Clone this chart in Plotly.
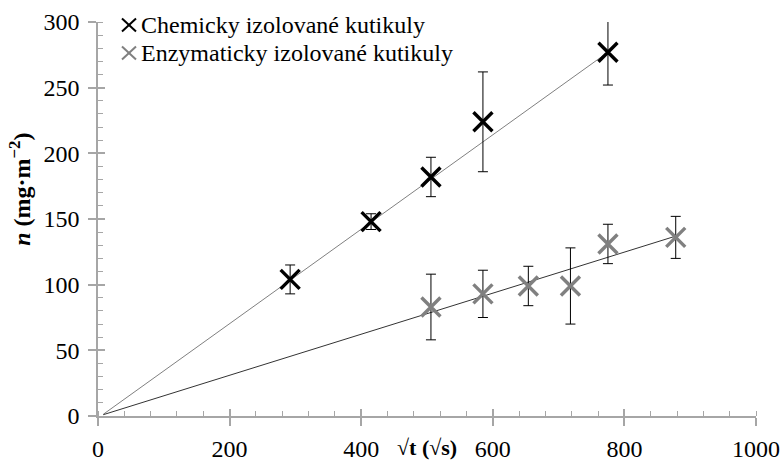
import plotly.graph_objects as go

# ---- data ----
chem_x = [292, 415, 506, 585, 775]
chem_y = [104, 148, 182, 224, 277]
chem_err = [11, 6, 15, 38, 25]

enz_x = [506, 585, 654, 718, 775, 878]
enz_y = [83, 93, 99, 99, 131, 136]
enz_err = [25, 18, 15, 29, 15, 16]

chem_fit_slope, chem_fit_icpt, chem_fit_range = 0.3595, -1.6, [8, 775]
enz_fit_slope, enz_fit_icpt, enz_fit_range = 0.1563, -0.25, [8, 878]

x_ticks = [0, 200, 400, 600, 800, 1000]
y_ticks = [0, 50, 100, 150, 200, 250, 300]

chem_name = "Chemicky izolované kutikuly"
enz_name = "Enzymaticky izolované kutikuly"

FONT = "Liberation Serif"
AX = "#a6a6a6"
CHEM_C = "black"
ENZ_C = "#808080"

fig = go.Figure()

# trend lines
fig.add_trace(go.Scatter(
    x=chem_fit_range, y=[chem_fit_slope * v + chem_fit_icpt for v in chem_fit_range],
    mode="lines", line=dict(color="#808080", width=1), showlegend=False, hoverinfo="skip"))
fig.add_trace(go.Scatter(
    x=enz_fit_range, y=[enz_fit_slope * v + enz_fit_icpt for v in enz_fit_range],
    mode="lines", line=dict(color="#333333", width=1), showlegend=False, hoverinfo="skip"))

# data points
fig.add_trace(go.Scatter(
    x=chem_x, y=chem_y, mode="markers", name=chem_name, showlegend=False,
    marker=dict(symbol="x-thin", size=19, line=dict(width=3.4, color=CHEM_C), color=CHEM_C),
    error_y=dict(type="data", array=chem_err, visible=True, color="black", thickness=1, width=5)))
fig.add_trace(go.Scatter(
    x=enz_x, y=enz_y, mode="markers", name=enz_name, showlegend=False,
    marker=dict(symbol="x-thin", size=19, line=dict(width=3.4, color=ENZ_C), color=ENZ_C),
    error_y=dict(type="data", array=enz_err, visible=True, color="black", thickness=1, width=5)))

# dummy trace for overlay axes (crossing ticks)
fig.add_trace(go.Scatter(x=[None], y=[None], xaxis="x2", yaxis="y2",
                         showlegend=False, hoverinfo="skip"))

# custom legend (text annotations + x-shaped keys)
legend_items = [(chem_name, CHEM_C, 0.9924), (enz_name, ENZ_C, 0.9213)]
key_x = 0.0471
text_x = 0.0622
shapes = []
annotations = []
for name, col, yy in legend_items:
    for (a, b) in [((-7, -6.5), (7, 6.5)), ((-7, 6.5), (7, -6.5))]:
        shapes.append(dict(type="line", xref="paper", yref="paper",
                           xsizemode="pixel", ysizemode="pixel",
                           xanchor=key_x, yanchor=yy,
                           x0=a[0], y0=a[1], x1=b[0], y1=b[1],
                           line=dict(color=col, width=2)))
    annotations.append(dict(text=name, xref="paper", yref="paper", x=text_x, y=yy,
                            xanchor="left", yanchor="middle", showarrow=False,
                            font=dict(family=FONT, size=24, color="black")))

annotations += [
    dict(text="<b><i>n</i> (mg·m<sup>−2</sup>)</b>", textangle=-90,
         xref="paper", yref="paper", x=-0.1185, y=0.574, xanchor="center", yanchor="middle",
         showarrow=False, font=dict(family=FONT, size=24, color="black")),
    dict(text="<b>√t (√s)</b>",
         xref="paper", yref="paper", x=0.5, y=-0.079, xanchor="center", yanchor="middle",
         showarrow=False, font=dict(family=FONT, size=22, color="black")),
]

fig.update_layout(
    width=780, height=462,
    margin=dict(l=98, r=24, t=22, b=46, autoexpand=False),
    paper_bgcolor="white", plot_bgcolor="white",
    font=dict(family=FONT, size=24, color="black"),
    showlegend=False,
    xaxis=dict(range=[0, 1000], tickvals=x_ticks, showgrid=False, zeroline=False,
               showline=True, linecolor=AX, linewidth=1.5,
               ticks="outside", ticklen=8, tickcolor=AX, tickwidth=1.5,
               tickfont=dict(family=FONT, size=24, color="black"),
               minor=dict(dtick=40, ticks="inside", ticklen=5, tickcolor=AX, tickwidth=1),
               ticklabelstandoff=2),
    yaxis=dict(range=[0, 300], tickvals=y_ticks, showgrid=False, zeroline=False,
               showline=True, linecolor=AX, linewidth=1.5,
               ticks="outside", ticklen=8, tickcolor=AX, tickwidth=1.5,
               tickfont=dict(family=FONT, size=24, color="black"),
               minor=dict(dtick=10, ticks="inside", ticklen=5, tickcolor=AX, tickwidth=1),
               ticklabelstandoff=4),
    xaxis2=dict(range=[0, 1000], tickvals=x_ticks, overlaying="x", anchor="y",
                showgrid=False, zeroline=False, showline=False, showticklabels=False,
                ticks="inside", ticklen=7, tickcolor=AX, tickwidth=1.5),
    yaxis2=dict(range=[0, 300], tickvals=y_ticks, overlaying="y", anchor="x",
                showgrid=False, zeroline=False, showline=False, showticklabels=False,
                ticks="inside", ticklen=7, tickcolor=AX, tickwidth=1.5),
    shapes=shapes,
    annotations=annotations,
)

fig.write_html("out.html")
